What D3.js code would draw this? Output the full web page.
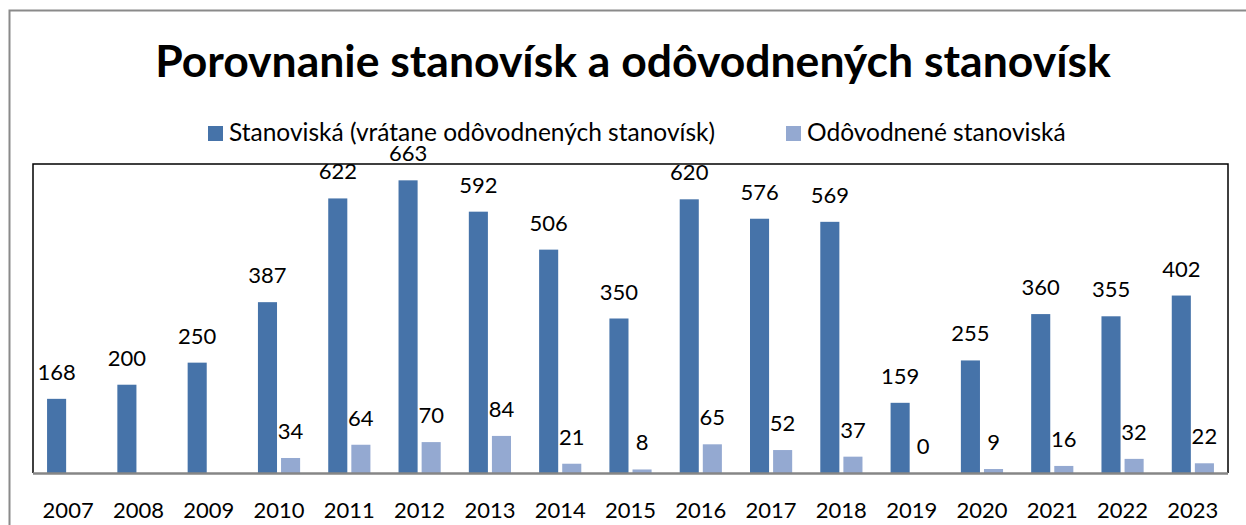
<!DOCTYPE html>
<html>
<head>
<meta charset="utf-8">
<script src="https://cdn.jsdelivr.net/npm/d3@7"></script>
<style>
  body { margin: 0; background: #fff; }
  text { font-family: Lato, "Open Sans", sans-serif; fill: #000; }
</style>
</head>
<body>
<script>
// data
var years = ["2007","2008","2009","2010","2011","2012","2013","2014","2015","2016","2017","2018","2019","2020","2021","2022","2023"];
var stanoviska = [168, 200, 250, 387, 622, 663, 592, 506, 350, 620, 576, 569, 159, 255, 360, 355, 402];
var odovodnene = [null, null, null, 34, 64, 70, 84, 21, 8, 65, 52, 37, 0, 9, 16, 32, 22];
var seriesNames = ["Stanoviská (vrátane odôvodnených stanovísk)", "Odôvodnené stanoviská"];
var colors = ["#4673a9", "#94a9d1"];

var width = 1246, height = 525;
var plotL = 33, plotR = 1228, plotT = 164, plotB = 473;

var svg = d3.select("body").append("svg")
    .attr("width", width)
    .attr("height", height);

// outer chart border (cut off right and bottom)
svg.append("rect")
    .attr("x", 9.5).attr("y", 10.5)
    .attr("width", 1400).attr("height", 700)
    .attr("fill", "none")
    .attr("stroke", "#8a8a8a")
    .attr("stroke-width", 2);

svg.append("text")
    .attr("x", 633).attr("y", 77)
    .attr("text-anchor", "middle")
    .style("font-size", "44.5px")
    .style("font-weight", "bold")
    .text("Porovnanie stanovísk a odôvodnených stanovísk");

// legend
var legX = [208, 786];
var leg = svg.selectAll("g.leg")
    .data(seriesNames)
    .enter().append("g")
    .attr("transform", function (d, i) { return "translate(" + legX[i] + ",126)"; });
leg.append("rect")
    .attr("width", 15).attr("height", 15)
    .attr("fill", function (d, i) { return colors[i]; });
leg.append("text")
    .attr("x", 21).attr("y", 15)
    .style("font-size", "24.5px")
    .text(function (d) { return d; });

var x0 = d3.scaleBand().domain(years).range([plotL, plotR])
    .paddingInner(0.4).paddingOuter(0.2);
var x1 = d3.scaleBand().domain([0, 1]).range([0, x0.bandwidth()])
    .paddingInner(0.174);
var y = d3.scaleLinear().domain([0, 700]).range([plotB, plotT]);

// plot frame
svg.append("path")
    .attr("d", "M" + plotL + "," + plotB + "V" + plotT + "H" + plotR + "V" + plotB)
    .attr("fill", "none")
    .attr("stroke", "#000")
    .attr("stroke-width", 1.5);

var rows = years.map(function (yr, i) {
    return {year: yr, vals: [stanoviska[i], odovodnene[i]]};
});

var groups = svg.selectAll("g.yr")
    .data(rows)
    .enter().append("g")
    .attr("transform", function (d) { return "translate(" + x0(d.year) + ",0)"; });

var cells = groups.selectAll("g")
    .data(function (d) {
        return d.vals.map(function (v, k) { return {k: k, v: v}; })
            .filter(function (c) { return c.v !== null; });
    })
    .enter().append("g");

cells.append("rect")
    .attr("x", function (c) { return x1(c.k); })
    .attr("width", x1.bandwidth())
    .attr("y", function (c) { return y(c.v); })
    .attr("height", function (c) { return plotB - y(c.v); })
    .attr("fill", function (c) { return colors[c.k]; });

cells.append("text")
    .attr("x", function (c) { return x1(c.k) + x1.bandwidth() / 2; })
    .attr("y", function (c) { return y(c.v) - 19; })
    .attr("text-anchor", "middle")
    .style("font-size", "22px")
    .text(function (c) { return c.v; });

// x axis
svg.append("line")
    .attr("x1", plotL).attr("x2", plotR)
    .attr("y1", plotB + 0.5).attr("y2", plotB + 0.5)
    .attr("stroke", "#868686")
    .attr("stroke-width", 2.5);

svg.selectAll("text.xl")
    .data(years)
    .enter().append("text")
    .attr("class", "xl")
    .attr("x", function (d) { return x0(d) + x0.bandwidth() / 2; })
    .attr("y", 518)
    .attr("text-anchor", "middle")
    .style("font-size", "22px")
    .text(function (d) { return d; });
</script>
</body>
</html>
